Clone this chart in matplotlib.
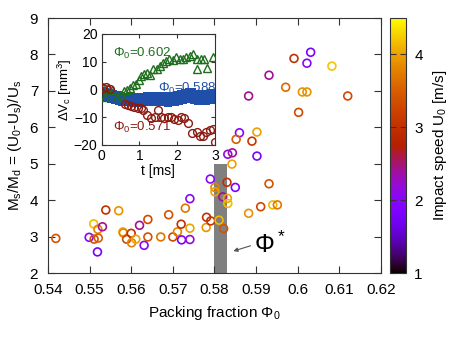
import matplotlib
matplotlib.use("Agg")
import matplotlib.pyplot as plt
import numpy as np

plt.rcParams["font.family"] = ["Liberation Sans", "DejaVu Sans"]
plt.rcParams["mathtext.fontset"] = "custom"
plt.rcParams["mathtext.rm"] = "Liberation Sans"
plt.rcParams["mathtext.it"] = "Liberation Sans:italic"

# main scatter: packing fraction, Ms/Md, impact speed
phi0 = [0.5419, 0.5499, 0.5510, 0.5511, 0.5520, 0.5521, 0.5519, 0.5531, 0.5539, 0.5570,
        0.5580, 0.5581, 0.5589, 0.5600, 0.5601, 0.5611, 0.5620, 0.5631, 0.5640, 0.5640,
        0.5671, 0.5690, 0.5700, 0.5711, 0.5720, 0.5721, 0.5730, 0.5741, 0.5741, 0.5741,
        0.5780, 0.5781, 0.5791, 0.5790, 0.5801, 0.5801, 0.5811, 0.5820, 0.5822, 0.5830,
        0.5831, 0.5832, 0.5850, 0.5931, 0.5882, 0.5911, 0.5940, 0.5951, 0.5860, 0.5902,
        0.5852, 0.5890, 0.5832, 0.5843, 0.5902, 0.5842, 0.6031, 0.5991, 0.6022, 0.6082,
        0.5931, 0.5971, 0.6011, 0.6022, 0.6120, 0.5882, 0.6002]
mass_ratio = [2.95, 2.98, 3.35, 2.93, 3.20, 2.96, 2.58, 3.27, 3.73, 3.71,
              3.13, 3.10, 2.93, 3.09, 2.83, 2.93, 3.31, 2.76, 3.47, 2.99,
              2.99, 3.60, 2.99, 3.13, 3.34, 2.91, 3.78, 3.23, 4.04, 2.92,
              3.25, 3.53, 3.43, 4.58, 4.35, 4.23, 3.45, 4.09, 3.22, 4.49,
              4.05, 3.91, 4.35, 4.45, 3.64, 3.82, 3.87, 3.87, 5.85, 5.87,
              5.67, 5.62, 5.26, 5.30, 5.21, 4.99, 8.06, 7.89, 7.76, 7.68,
              7.43, 7.10, 6.97, 6.97, 6.86, 6.86, 6.41]
impact_speed = [3.4, 2.0, 4.15, 3.4, 3.8, 3.5, 1.7, 2.4, 3.0, 3.9,
                4.1, 3.8, 3.3, 3.0, 3.8, 4.0, 2.4, 2.0, 3.3, 3.4,
                3.7, 3.4, 3.3, 3.8, 3.0, 1.8, 3.7, 4.0, 2.0, 2.2,
                3.9, 3.0, 3.1, 2.0, 3.8, 4.0, 4.15, 2.4, 3.4, 3.0,
                4.0, 4.15, 1.8, 3.4, 3.9, 3.3, 4.15, 3.7, 2.0, 4.0,
                3.5, 3.1, 2.1, 2.4, 1.8, 4.0, 1.8, 3.0, 2.0, 4.2,
                2.4, 3.6, 3.9, 3.9, 3.3, 2.4, 3.3]

# inset time series
t_602 = [0.03, 0.09, 0.18, 0.27, 0.41, 0.50, 0.58, 0.66, 0.75, 0.84, 0.91, 0.98, 1.03,
         1.12, 1.21, 1.28, 1.37, 1.46, 1.55, 1.61, 1.70, 1.79, 1.88, 1.97, 2.06, 2.15,
         2.24, 2.33, 2.42, 2.51, 2.51, 2.62, 2.71, 2.79, 2.95]
dv_602 = [0.9, -2.7, 0.4, -0.1, -2.7, -1.9, -0.7, -0.4, 0.5, 1.4, 2.1, 3.3, 4.8,
          5.7, 6.0, 5.3, 7.2, 7.5, 8.4, 9.6, 10.2, 10.8, 10.6, 11.5, 10.8, 11.1,
          11.8, 12.0, 12.7, 11.1, 7.5, 10.8, 11.1, 7.6, 11.5]

t_588 = [0.00, 0.05, 0.10, 0.15, 0.20, 0.25, 0.30, 0.35, 0.40, 0.45, 0.50, 0.55, 0.60,
         0.65, 0.70, 0.75, 0.80, 0.85, 0.90, 0.95, 1.00, 1.05, 1.10, 1.15, 1.20, 1.25,
         1.30, 1.35, 1.40, 1.45, 1.50, 1.55, 1.60, 1.65, 1.70, 1.75, 1.80, 1.85, 1.90,
         1.95, 2.00, 2.05, 2.10, 2.15, 2.20, 2.25, 2.30, 2.35, 2.40, 2.45, 2.50, 2.55,
         2.60, 2.65, 2.70, 2.75, 2.80, 2.85, 2.90, 2.95, 3.00]
dv_588 = [-0.5, -2.8, -1.0, -3.2, -1.4, -3.5, -1.8, -3.8, -2.2, -4.2, -2.5, -4.5, -2.6,
          -4.6, -2.7, -4.7, -2.8, -4.8, -2.8, -4.7, -2.7, -4.8, -2.6, -4.7, -2.5, -4.6,
          -2.4, -4.5, -2.4, -4.4, -2.3, -4.6, -2.4, -4.7, -2.5, -4.8, -2.6, -4.7, -2.4,
          -4.5, -2.2, -4.2, -1.6, -4.0, -1.4, -3.6, -1.0, -3.5, -0.9, -4.0, -1.6, -4.2,
          -1.7, -4.3, -1.8, -4.1, -1.6, -4.0, -1.5, -3.8, -1.4]

t_571 = [0.03, 0.12, 0.23, 0.63, 0.70, 0.78, 0.86, 0.95, 1.03, 1.10, 1.20, 1.30, 1.40,
         1.48, 1.57, 1.66, 1.75, 1.84, 1.92, 2.02, 2.10, 2.19, 2.28, 2.40, 2.51, 2.60,
         2.69, 2.77, 2.86, 2.95, 3.00]
dv_571 = [0.5, 0.9, 0.0, -5.2, -5.6, -5.9, -6.2, -6.6, -6.9, -7.3, -9.2, -10.4, -9.8,
          -7.3, -10.0, -10.4, -9.8, -10.0, -10.7, -11.0, -10.0, -10.4, -12.0, -15.6, -15.2,
          -16.8, -16.8, -15.2, -14.6, -14.4, -18.9]

cmap = plt.get_cmap("gnuplot")
norm = matplotlib.colors.Normalize(vmin=1, vmax=4.5)

fig = plt.figure(figsize=(4.52, 3.4), dpi=100)
ax = fig.add_axes([0.106, 0.197, 0.737, 0.750])

ax.fill_betweenx([2, 5], 0.5799, 0.5830, color="#808080", linewidth=0, zorder=1)
ax.scatter(phi0, mass_ratio, s=32, facecolors="none",
           edgecolors=cmap(norm(np.array(impact_speed))), linewidths=1.2, zorder=3)

ax.set_xlim(0.54, 0.62)
ax.set_ylim(2, 9)
ax.set_xticks(np.arange(0.54, 0.6201, 0.01))
ax.set_xticklabels(["0.54", "0.55", "0.56", "0.57", "0.58", "0.59", "0.6", "0.61", "0.62"])
ax.set_yticks(range(2, 10))
ax.tick_params(direction="in", top=True, right=True, length=5, labelsize=11, color="#333333")
ax.tick_params(axis="x", pad=7)
ax.tick_params(axis="y", pad=7)
for s in ax.spines.values():
    s.set_color("#333333")
ax.set_xlabel(r"Packing fraction Φ$_0$", fontsize=11, labelpad=5)
ax.set_ylabel(r"M$_\mathrm{s}$/M$_\mathrm{d}$ = (U$_0$-U$_\mathrm{s}$)/U$_\mathrm{s}$",
              fontsize=11, labelpad=4)

ax.annotate("", xy=(0.5839, 2.58), xytext=(0.5893, 2.77),
            arrowprops=dict(arrowstyle="-|>", color="#555555", lw=0.8, mutation_scale=6))
ax.text(0.5895, 2.78, r"Φ$^*$", fontsize=18, ha="left", va="center")

# colorbar
cax = fig.add_axes([0.863, 0.197, 0.035, 0.750])
sm = matplotlib.cm.ScalarMappable(norm=norm, cmap=cmap)
cb = fig.colorbar(sm, cax=cax)
cb.set_ticks([1, 2, 3, 4])
cb.ax.tick_params(direction="in", length=4, labelsize=11, left=True, right=True,
                  color="#333333", pad=6)
cb.outline.set_edgecolor("#333333")
cb.set_label(r"Impact speed U$_0$ [m/s]", fontsize=11, labelpad=6)

# inset
ins = fig.add_axes([0.2250, 0.574, 0.2507, 0.3265])
ins.plot(t_588, dv_588, "s", color="#1f4fa8", markersize=5.4, markeredgewidth=0, zorder=2)
ins.plot(t_602, dv_602, "^", color="#1e6e1e", markerfacecolor="none", markersize=5.8,
         markeredgewidth=1.0, zorder=3)
ins.plot(t_571, dv_571, "o", color="#8b1a10", markerfacecolor="none", markersize=5.6,
         markeredgewidth=1.0, zorder=3)
ins.set_xlim(0, 3)
ins.set_ylim(-20, 20)
ins.set_xticks([0, 1, 2, 3])
ins.set_yticks([-20, -10, 0, 10, 20])
ins.tick_params(direction="in", top=True, right=True, length=3, labelsize=10, pad=3,
                color="#333333")
for s in ins.spines.values():
    s.set_color("#333333")
ins.set_xlabel("t [ms]", fontsize=10, labelpad=1)
ins.set_ylabel(r"ΔV$_\mathrm{c}$ [mm$^3$]", fontsize=9.5, labelpad=0)
ins.text(0.30, 13.0, r"Φ$_0$=0.602", color="#1e6e1e", fontsize=9.5, va="center")
ins.text(1.50, 0.3, r"Φ$_0$=0.588", color="#1f4fa8", fontsize=9.5, va="center")
ins.text(0.30, -13.8, r"Φ$_0$=0.571", color="#8b1a10", fontsize=9.5, va="center")

fig.savefig("out.png", dpi=100)
